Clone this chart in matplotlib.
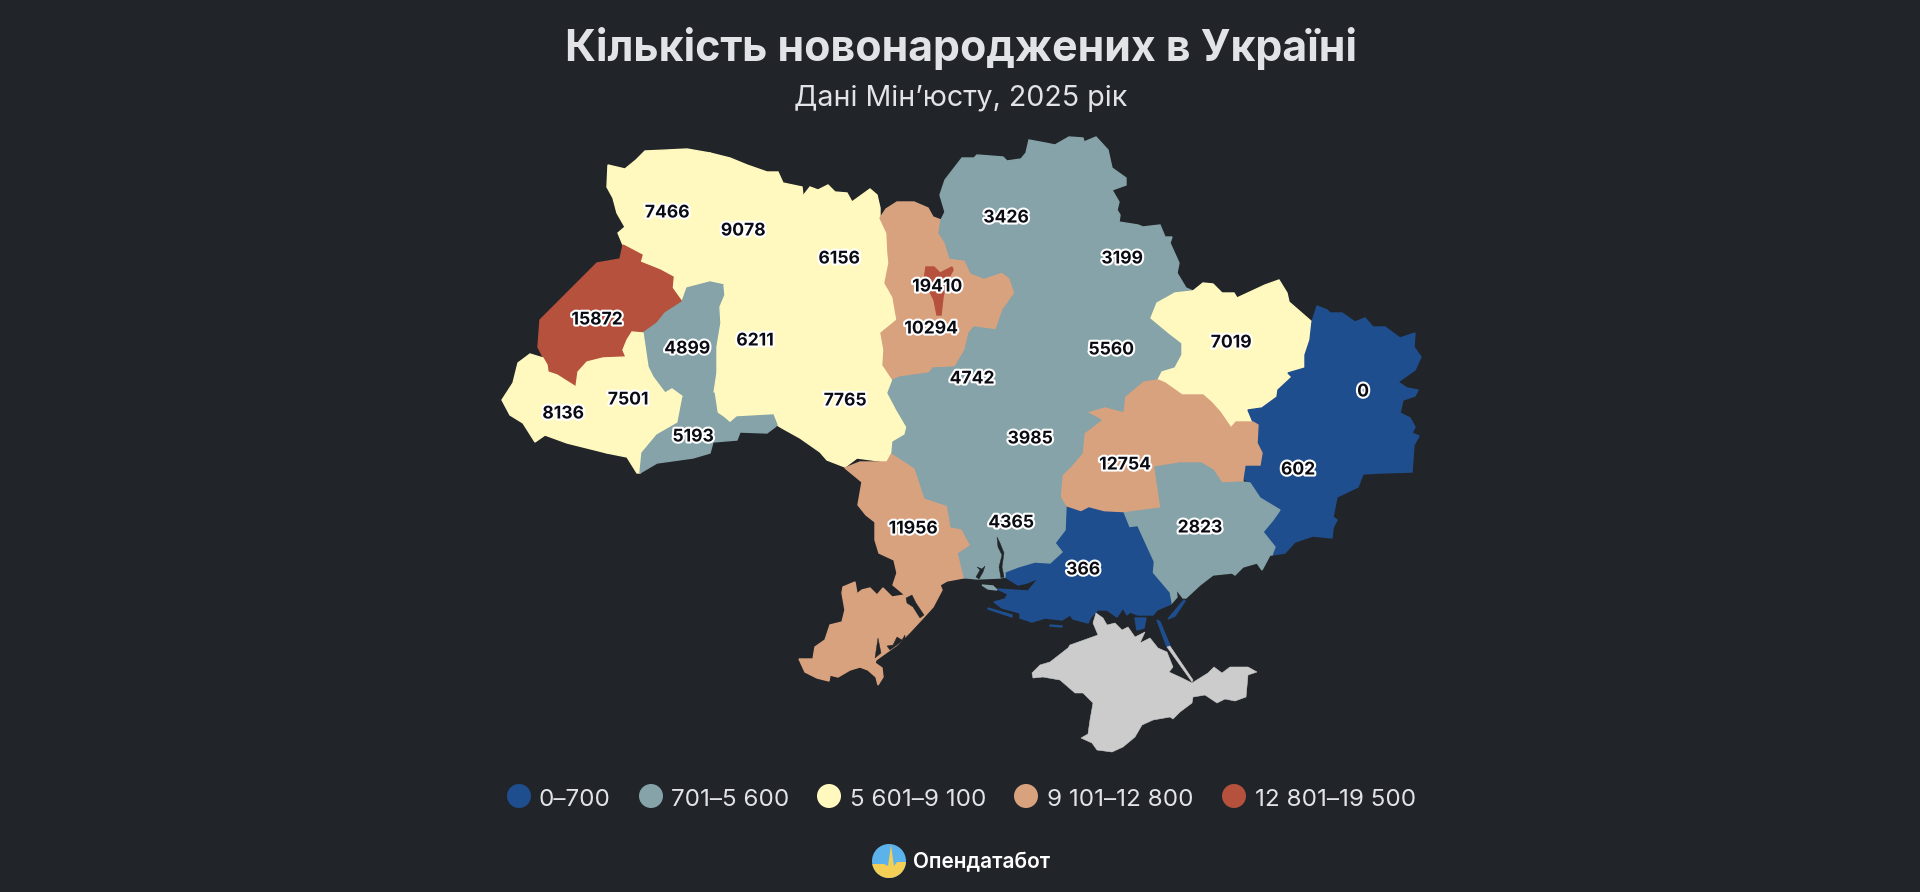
import matplotlib
matplotlib.use('Agg')
import matplotlib.pyplot as plt
import matplotlib.patheffects as pe
from matplotlib.colors import BoundaryNorm, ListedColormap
from matplotlib.patches import Circle, Polygon

plt.rcParams['font.family'] = ['Inter', 'DejaVu Sans']

BG = '#212529'
TEXT = '#e1e3e7'

# births per region, label positions are where the picture has them
regions = ['volyn', 'rivne', 'zhytomyr', 'lviv', 'ternopil', 'khmelnytskyi', 'vinnytsia',
           'zakarpattia', 'frankivsk', 'chernivtsi', 'kyiv_obl', 'kyiv_city', 'chernihiv',
           'sumy', 'poltava', 'kharkiv', 'luhansk', 'donetsk', 'dnipro', 'zaporizhzhia',
           'kherson', 'mykolaiv', 'odesa', 'kirovohrad', 'cherkasy']
births = [7466, 9078, 6156, 15872, 4899, 6211, 7765,
          8136, 7501, 5193, 10294, 19410, 3426,
          3199, 5560, 7019, 0, 602, 12754, 2823,
          366, 4365, 11956, 3985, 4742]
label_x = [667, 743, 839, 597, 687, 755, 845, 563, 628, 693, 931, 937, 1006,
           1122, 1111, 1231, 1363, 1298, 1125, 1200, 1083, 1011, 913, 1030, 972]
label_y = [213, 231, 259, 320, 349, 341, 401, 414, 400, 437, 329, 287, 218,
           259, 350, 343, 392, 470, 465, 528, 570, 523, 529, 439, 379]

bin_edges = [0, 701, 5601, 9101, 12801, 19501]
bin_colors = ['#1f4e8f', '#85a3a8', '#fff9bf', '#d9a27f', '#b5513d']
bin_labels = ['0–700', '701–5 600', '5 601–9 100', '9 101–12 800', '12 801–19 500']
legend_dot_x = [519, 651, 829, 1026, 1234]
legend_text_x = [539, 671, 850, 1047, 1255]

# outlines, in picture pixels
shapes = {
    'volyn': [[(608, 165), (625, 169), (636, 160), (645, 151), (667, 150), (687, 149), (710, 153), (705, 190),
               (700, 240), (673, 277), (660, 270), (640, 262), (642, 255), (623, 245), (618, 233), (625, 227),
               (617, 213), (613, 198), (607, 187)]],
    'rivne': [[(710, 153), (730, 158), (747, 165), (767, 172), (778, 172), (783, 183), (802, 187),
               (803, 196), (795, 230), (790, 270), (724, 285), (710, 282), (687, 288), (682, 302),
               (672, 288), (673, 277), (700, 240), (705, 190)]],
    'zhytomyr': [[(803, 196), (810, 187), (818, 190), (828, 185), (835, 192), (847, 193), (852, 202),
                  (870, 189), (877, 195), (880, 208), (880, 218), (887, 233), (888, 253), (889, 263),
                  (885, 283), (893, 297), (897, 320), (881, 333), (800, 330), (790, 270), (795, 230)]],
    'lviv': [[(623, 245), (642, 255), (640, 262), (660, 270), (673, 277), (672, 288), (682, 302),
              (665, 313), (657, 323), (643, 333), (632, 332), (627, 340), (623, 350), (626, 357),
              (603, 358), (587, 362), (578, 372), (576, 387), (557, 375), (548, 372), (547, 365),
              (538, 347), (540, 320), (557, 303), (577, 283), (597, 263), (620, 259)]],
    'ternopil': [[(682, 302), (687, 288), (710, 282), (724, 285), (725, 295), (720, 307), (721, 323),
                  (717, 347), (717, 373), (714, 393), (683, 397), (672, 389), (665, 393), (653, 377),
                  (648, 367), (643, 333), (657, 323), (665, 313)]],
    'khmelnytskyi': [[(724, 285), (790, 270), (800, 330), (760, 390), (737, 417), (730, 423), (723, 417),
                      (717, 413), (714, 393), (717, 373), (717, 347), (721, 323), (720, 307), (725, 295)]],
    'vinnytsia': [[(737, 417), (773, 415), (777, 425), (782, 428), (800, 438), (820, 452), (827, 460),
                   (845, 467), (857, 458), (887, 462), (892, 453), (893, 442), (905, 435), (907, 427),
                   (897, 410), (888, 393), (893, 380), (883, 365), (884, 350), (881, 333), (800, 330),
                   (760, 390)]],
    'zakarpattia': [[(530, 354), (543, 358), (547, 365), (548, 372), (557, 375), (576, 387), (590, 420),
                     (607, 453), (587, 448), (567, 443), (545, 435), (535, 442), (523, 423), (510, 415),
                     (502, 400), (513, 383), (518, 363)]],
    'frankivsk': [[(576, 387), (578, 372), (587, 362), (603, 358), (626, 357), (623, 350), (627, 340),
                   (632, 332), (643, 333), (648, 367), (653, 377), (665, 393), (672, 389), (683, 397),
                   (678, 423), (657, 435), (642, 453), (640, 473), (637, 473), (627, 457), (607, 453),
                   (590, 420)]],
    'chernivtsi': [[(683, 397), (714, 393), (717, 413), (723, 417), (730, 423), (737, 417), (773, 415),
                    (777, 425), (775, 427), (767, 433), (740, 432), (737, 440), (713, 442), (710, 453),
                    (693, 458), (657, 463), (640, 473), (642, 453), (657, 435), (678, 423)]],
    'kyiv_obl': [[(880, 218), (886, 209), (897, 202), (914, 202), (928, 208), (933, 217), (941, 220),
                  (939, 233), (945, 242), (950, 258), (965, 260), (971, 273), (984, 278), (1002, 272),
                  (1010, 278), (1015, 293), (1003, 310), (996, 330), (974, 327), (969, 333), (965, 350),
                  (955, 367), (933, 368), (929, 373), (900, 377), (893, 380), (883, 365), (884, 350),
                  (881, 333), (897, 320), (893, 297), (885, 283), (889, 263), (888, 253), (887, 233)]],
    'kyiv_city': [[(926, 267), (934, 267), (940, 273), (952, 267), (953, 270), (946, 283), (943, 297),
                   (941, 315), (937, 315), (934, 300), (929, 290), (924, 280)]],
    'chernihiv': [[(941, 220), (945, 212), (940, 195), (945, 180), (962, 158), (974, 158), (977, 155),
                   (1003, 157), (1007, 161), (1021, 159), (1026, 153), (1029, 140), (1045, 143),
                   (1055, 145), (1069, 137), (1083, 138), (1084, 142), (1075, 200), (1060, 260),
                   (1040, 285), (1010, 278), (1002, 272), (984, 278), (971, 273), (965, 260), (950, 258),
                   (945, 242), (939, 233)]],
    'sumy': [[(1084, 142), (1096, 137), (1108, 150), (1112, 168), (1126, 178), (1126, 185), (1112, 190),
              (1119, 202), (1117, 210), (1120, 215), (1119, 222), (1138, 225), (1143, 227), (1160, 225),
              (1165, 237), (1172, 237), (1170, 243), (1179, 263), (1177, 273), (1186, 288), (1193, 291),
              (1175, 293), (1157, 303), (1151, 318), (1100, 300), (1040, 285), (1060, 260), (1075, 200)]],
    'poltava': [[(1040, 285), (1100, 300), (1151, 318), (1169, 333), (1182, 343), (1182, 355), (1175, 368),
                 (1162, 372), (1158, 380), (1144, 382), (1126, 397), (1124, 413), (1105, 408), (1088, 413),
                 (1050, 380)]],
    'kharkiv': [[(1193, 291), (1203, 283), (1213, 284), (1222, 293), (1234, 293), (1237, 298), (1265, 285),
                 (1279, 280), (1287, 293), (1289, 302), (1312, 322), (1310, 340), (1305, 355), (1305, 368),
                 (1288, 373), (1292, 377), (1278, 390), (1277, 397), (1262, 408), (1248, 410), (1253, 422),
                 (1236, 422), (1231, 428), (1220, 412), (1212, 403), (1203, 395), (1182, 395), (1165, 383),
                 (1158, 380), (1162, 372), (1175, 368), (1182, 355), (1182, 343), (1169, 333), (1151, 318),
                 (1157, 303), (1175, 293)]],
    'luhansk': [[(1312, 322), (1317, 306), (1327, 310), (1330, 313), (1342, 313), (1355, 322), (1365, 318),
                 (1373, 327), (1385, 327), (1400, 338), (1415, 333), (1414, 347), (1421, 357), (1415, 370),
                 (1398, 382), (1407, 388), (1418, 390), (1415, 396), (1403, 400), (1400, 413), (1410, 418),
                 (1415, 427), (1412, 433), (1300, 430), (1253, 422), (1248, 410), (1262, 408), (1277, 397),
                 (1278, 390), (1292, 377), (1288, 373), (1305, 368), (1305, 355), (1310, 340)]],
    'donetsk': [[(1253, 422), (1300, 430), (1412, 433), (1419, 436), (1414, 445), (1412, 472), (1380, 473),
                 (1363, 474), (1358, 487), (1337, 497), (1333, 517), (1337, 520), (1333, 528), (1332, 538),
                 (1313, 536), (1295, 542), (1285, 553), (1272, 555), (1275, 547), (1263, 532), (1273, 520),
                 (1280, 510), (1260, 498), (1250, 483), (1243, 478), (1245, 465), (1260, 465), (1262, 453),
                 (1257, 443), (1258, 425)]],
    'dnipro': [[(1088, 413), (1105, 408), (1124, 413), (1126, 397), (1144, 382), (1158, 380), (1165, 383),
                (1182, 395), (1203, 395), (1212, 403), (1220, 412), (1231, 428), (1236, 422), (1253, 422),
                (1258, 425), (1257, 443), (1262, 453), (1260, 465), (1245, 465), (1243, 478), (1243, 482),
                (1222, 483), (1213, 470), (1201, 463), (1180, 463), (1155, 467), (1161, 508), (1125, 513),
                (1104, 512), (1089, 508), (1081, 512), (1066, 507), (1060, 497), (1062, 475), (1072, 465),
                (1082, 453), (1084, 433), (1101, 420)]],
    'zaporizhzhia': [[(1155, 467), (1180, 463), (1201, 463), (1213, 470), (1222, 483), (1243, 482),
                      (1250, 483), (1260, 498), (1280, 510), (1273, 520), (1263, 532), (1275, 547),
                      (1272, 555), (1270, 555), (1262, 570), (1257, 563), (1243, 567), (1235, 575),
                      (1232, 573), (1213, 575), (1200, 585), (1186, 598), (1183, 598), (1176, 589),
                      (1177, 597), (1171, 604), (1169, 593), (1152, 573), (1153, 562), (1137, 527),
                      (1129, 528), (1123, 513), (1161, 508)]],
    'kherson': [[(1066, 507), (1081, 512), (1089, 508), (1104, 512), (1123, 513), (1129, 528), (1137, 527),
                 (1153, 562), (1152, 573), (1169, 593), (1171, 604), (1157, 610), (1153, 615), (1147, 615),
                 (1143, 615), (1138, 615), (1130, 612), (1127, 615), (1123, 608), (1117, 617), (1107, 610),
                 (1097, 610), (1096, 612), (1091, 617), (1088, 623), (1073, 619), (1070, 615), (1062, 620),
                 (1045, 618), (1032, 622), (1020, 618), (1020, 613), (1002, 608), (994, 602), (1005, 599),
                 (1008, 594), (997, 589), (1028, 591), (1039, 578), (1027, 583), (1018, 585), (1005, 577),
                 (1005, 572), (1018, 567), (1035, 562), (1050, 563), (1062, 552), (1055, 543), (1065, 530)],
                [(988, 608), (1012, 615), (1012, 617), (988, 609)],
                [(1050, 625), (1062, 626), (1062, 627), (1050, 626)],
                [(1135, 618), (1146, 618), (1144, 628), (1137, 630)],
                [(1157, 620), (1160, 622), (1170, 646), (1167, 647)],
                [(1168, 619), (1184, 600), (1185, 601), (1175, 616)]],
    'mykolaiv': [[(946, 505), (1000, 505), (1060, 497), (1066, 507), (1065, 530), (1055, 543), (1062, 552),
                  (1050, 563), (1035, 562), (1018, 567), (1005, 572), (1005, 577), (1000, 578), (977, 579),
                  (967, 578), (963, 578), (957, 553), (969, 545), (961, 530), (950, 528)],
                 [(982, 585), (993, 586), (997, 590), (988, 589)]],
    'odesa': [[(845, 468), (860, 462), (887, 462), (892, 453), (915, 468), (925, 498), (946, 505), (950, 528),
               (961, 530), (969, 545), (957, 553), (963, 578), (947, 581), (940, 585), (942, 590), (933, 607),
               (923, 618), (910, 632), (897, 645), (883, 655), (876, 660), (875, 663), (882, 668), (883, 677),
               (878, 685), (876, 677), (868, 670), (860, 667), (850, 670), (838, 677), (830, 675), (829, 681),
               (817, 678), (805, 672), (799, 659), (813, 659), (815, 647), (825, 640), (830, 625), (842, 622),
               (845, 610), (842, 593), (843, 587), (855, 582), (857, 594), (862, 590), (870, 588), (877, 595),
               (883, 588), (892, 597), (905, 595), (893, 585), (897, 573), (894, 560), (879, 553), (875, 540),
               (875, 522), (866, 515), (858, 505), (862, 482)]],
    'kirovohrad': [[(907, 427), (960, 420), (1050, 380), (1088, 413), (1101, 420), (1084, 433), (1082, 453),
                    (1072, 465), (1062, 475), (1060, 497), (1000, 505), (946, 505), (925, 498), (915, 468),
                    (892, 453), (893, 442), (905, 435)]],
    'cherkasy': [[(893, 380), (900, 377), (929, 373), (933, 368), (955, 367), (965, 350), (969, 333), (974, 327),
                  (996, 330), (1003, 310), (1015, 293), (1010, 278), (1040, 285), (1050, 380), (960, 420),
                  (907, 427), (897, 410), (888, 393)]],
}
crimea = [[(1096, 613), (1103, 618), (1107, 625), (1115, 623), (1122, 630), (1128, 627), (1135, 637),
           (1145, 632), (1140, 643), (1150, 638), (1158, 648), (1167, 652), (1173, 667), (1169, 672),
           (1182, 678), (1192, 683), (1208, 673), (1214, 667), (1222, 673), (1230, 667), (1248, 667),
           (1257, 672), (1248, 675), (1246, 697), (1235, 701), (1225, 699), (1217, 703), (1205, 695),
           (1193, 697), (1192, 703), (1180, 712), (1173, 719), (1170, 717), (1153, 720), (1142, 725),
           (1135, 737), (1123, 747), (1112, 752), (1097, 750), (1092, 743), (1081, 738), (1088, 734),
           (1090, 720), (1093, 703), (1083, 693), (1075, 693), (1060, 680), (1043, 677), (1033, 678),
           (1032, 673), (1040, 665), (1050, 662), (1068, 648), (1070, 645), (1098, 635), (1093, 623)],
          [(1167, 647), (1170, 646), (1193, 680), (1192, 682)]]
# inlets and lakes cut out of the land
water = [[(997, 537), (1000, 543), (1004, 553), (1002, 567), (1004, 577), (1001, 578), (999, 567),
          (1002, 555), (998, 547)],
         [(976, 577), (980, 570), (977, 567), (982, 569), (985, 566), (983, 572), (979, 579)],
         [(906, 598), (912, 595), (916, 603), (924, 615), (920, 618), (913, 607), (907, 603)],
         [(887, 646), (893, 645), (897, 637), (902, 640), (905, 635), (905, 639), (890, 650)],
         [(878, 638), (881, 653), (875, 658)]]

cmap = ListedColormap(bin_colors)
norm = BoundaryNorm(bin_edges, cmap.N)

fig = plt.figure(figsize=(19.2, 8.92), dpi=100, facecolor=BG)
ax = fig.add_axes([0, 0, 1, 1])
ax.set_xlim(0, 1920)
ax.set_ylim(892, 0)
ax.axis('off')

# same colour edge hides the seams between neighbours of one colour
for name, value in zip(regions, births):
    col = cmap(norm(value))
    z = 2 if name == 'kyiv_city' else 1
    for part in shapes[name]:
        ax.add_patch(Polygon(part, closed=True, fc=col, ec=col, lw=1, zorder=z))
for part in crimea:
    ax.add_patch(Polygon(part, closed=True, fc='#cccccc', ec='#cccccc', lw=0.4, zorder=2))
for part in water:
    ax.add_patch(Polygon(part, closed=True, fc=BG, ec=BG, lw=0.3, zorder=3))

halo = [pe.withStroke(linewidth=3, foreground='white')]
for value, x, y in zip(births, label_x, label_y):
    ax.text(x, y, str(value), ha='center', va='center', fontsize=12.6, fontweight='bold',
            color='#0b0b14', path_effects=halo, zorder=5)

ax.text(961, 49, 'Кількість новонароджених в Україні', ha='center', va='center',
        fontsize=30.9, fontweight='bold', color=TEXT)
ax.text(961, 98, 'Дані Мін’юсту, 2025 рік', ha='center', va='center', fontsize=20.6, color=TEXT)

for dot_x, text_x, col, lab in zip(legend_dot_x, legend_text_x, bin_colors, bin_labels):
    ax.add_patch(Circle((dot_x, 796), 12, fc=col, ec='none'))
    ax.text(text_x, 800, lab, ha='left', va='center', fontsize=17.4, color=TEXT)

# logo
logo = Circle((889, 861), 17, fc='#5cb2ea', ec='none')
ax.add_patch(logo)
sun = Polygon([(870, 864), (884, 864), (888, 866), (891, 845), (894, 866), (897, 862), (908, 862),
               (908, 880), (870, 880)], closed=True, fc='#f3cf55', ec='none')
ax.add_patch(sun)
sun.set_clip_path(logo)
ax.text(913, 862, 'Опендатабот', ha='left', va='center', fontsize=15, fontweight='semibold', color='white')

fig.savefig('out.png', dpi=100, facecolor=BG)
